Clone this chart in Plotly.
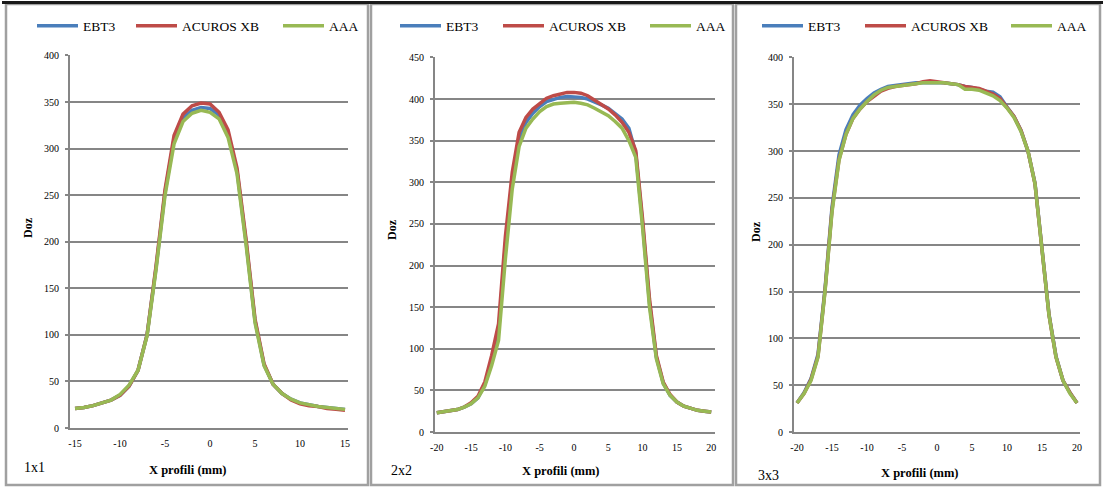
import plotly.graph_objects as go

W, H = 1106, 488

# ---- 1x1 field: lateral dose profile, -15..15 mm ----
x_1x1 = list(range(-15, 16))
ebt3_1x1 = [21, 22, 24, 27, 30, 35, 45, 62, 100, 172, 253, 310, 333, 341, 344, 343,
            336, 316, 276, 200, 115, 68, 47, 37, 31, 27, 25, 23, 22, 21, 20]
acuros_1x1 = [21, 22, 24, 27, 30, 35, 45, 62, 100, 174, 256, 314, 337, 346, 349, 348,
              339, 320, 279, 203, 117, 69, 47, 37, 30, 26, 24, 23, 21, 20, 19]
aaa_1x1 = [21, 22, 24, 27, 30, 36, 46, 62, 99, 170, 250, 305, 329, 338, 341, 339,
           332, 312, 273, 197, 113, 67, 47, 37, 31, 27, 25, 23, 22, 21, 20]
xticks_1x1 = [-15, -10, -5, 0, 5, 10, 15]

# ---- 2x2 field: -20..20 mm ----
x_2x2 = list(range(-20, 21))
ebt3_2x2 = [23, 24, 25, 27, 30, 34, 41, 57, 85, 120, 225, 303, 352, 372, 383, 391, 397,
            400, 402, 403, 403, 402, 400, 397, 393, 389, 383, 376, 365, 335, 250, 155,
            90, 59, 44, 36, 31, 28, 26, 25, 24]
acuros_2x2 = [23, 24, 25, 27, 30, 35, 43, 60, 92, 130, 235, 312, 360, 378, 388, 395, 401,
              404, 406, 408, 408, 407, 404, 399, 394, 388, 381, 372, 360, 338, 255, 160,
              92, 60, 45, 36, 31, 28, 26, 25, 24]
aaa_2x2 = [23, 24, 25, 27, 30, 34, 41, 55, 80, 110, 208, 292, 343, 365, 376, 385, 391,
           394, 395, 396, 396, 395, 393, 389, 385, 380, 373, 365, 350, 330, 245, 150,
           88, 58, 44, 36, 31, 28, 26, 25, 24]
xticks_2x2 = [-20, -15, -10, -5, 0, 5, 10, 15, 20]

# ---- 3x3 field: -20..20 mm ----
x_3x3 = list(range(-20, 21))
ebt3_3x3 = [31, 42, 57, 83, 153, 240, 296, 323, 339, 349, 356, 362, 366, 369, 370, 371,
            372, 373, 373, 373, 373, 373, 372, 371, 369, 368, 366, 364, 363, 358, 347,
            337, 322, 300, 266, 196, 126, 81, 55, 42, 31]
acuros_3x3 = [31, 41, 56, 81, 151, 237, 291, 318, 335, 345, 353, 359, 364, 367, 369, 370,
              371, 372, 374, 375, 374, 373, 372, 371, 369, 368, 367, 364, 361, 356, 347,
              337, 322, 300, 265, 195, 125, 80, 55, 42, 31]
aaa_3x3 = [31, 41, 55, 80, 150, 235, 290, 318, 335, 345, 353, 360, 365, 368, 369, 370,
           371, 372, 373, 373, 373, 373, 372, 371, 366, 366, 365, 362, 359, 354, 346,
           336, 321, 300, 265, 195, 125, 80, 55, 41, 31]
xticks_3x3 = [-20, -15, -10, -5, 0, 5, 10, 15, 20]

series_names = ["EBT3", "ACUROS XB", "AAA"]
series_colors = ["#4a7ebb", "#be4b48", "#98b954"]

panels = [
    dict(x=x_1x1, ys=[ebt3_1x1, acuros_1x1, aaa_1x1], xticks=xticks_1x1, label="1x1"),
    dict(x=x_2x2, ys=[ebt3_2x2, acuros_2x2, aaa_2x2], xticks=xticks_2x2, label="2x2"),
    dict(x=x_3x3, ys=[ebt3_3x3, acuros_3x3, aaa_3x3], xticks=xticks_3x3, label="3x3"),
]

# pixel geometry of each panel (plot area + frame + text anchors);
# leg = left pixel of the legend text of each series
geom = [
    dict(px=(70, 348), py=(55, 428), xr=(-15.56, 15.33), ymax=400,
         frame=(6, 368), leg=(84, 183, 330), doz=(28, 228), xt=(188, 470), lab=(34, 467)),
    dict(px=(435, 715), py=(57, 432), xr=(-20.26, 20.55), ymax=450,
         frame=(371, 733), leg=(447, 550, 697), doz=(392, 230), xt=(561, 471), lab=(401, 470)),
    dict(px=(794, 1080), py=(57, 432), xr=(-20.43, 20.43), ymax=400,
         frame=(736, 1100), leg=(809, 912, 1058), doz=(756, 232), xt=(920, 473), lab=(768, 475)),
]

SERIF = "Liberation Serif"
GRID = "#868686"


def fx(px):
    return px / W


def fy(py):
    return (H - py) / H


fig = go.Figure()
layout = dict(
    width=W, height=H, margin=dict(l=0, r=0, t=0, b=0, autoexpand=False),
    paper_bgcolor="white", plot_bgcolor="white", showlegend=True,
    font=dict(family=SERIF, color="black"),
    shapes=[], annotations=[],
)

leg_count = 0
for i, (p, g) in enumerate(zip(panels, geom)):
    n = "" if i == 0 else str(i + 1)
    for name, color, y, text_x in zip(series_names, series_colors, p["ys"], g["leg"]):
        leg_count += 1
        leg = "legend" if leg_count == 1 else f"legend{leg_count}"
        fig.add_trace(go.Scatter(
            x=p["x"], y=y, name=name, mode="lines", showlegend=True,
            line=dict(color=color, width=3.5),
            xaxis="x" + n, yaxis="y" + n, legend=leg,
        ))
        layout[leg] = dict(
            orientation="h", x=fx(text_x - 52), xanchor="left", y=fy(26), yanchor="middle",
            font=dict(family=SERIF, size=13.5, color="black"), bgcolor="rgba(0,0,0,0)",
            itemwidth=41, itemclick=False,
        )

    layout["xaxis" + n] = dict(
        domain=[fx(g["px"][0]), fx(g["px"][1])], anchor="y" + n, automargin=False,
        range=list(g["xr"]), tickmode="array", tickvals=p["xticks"],
        ticktext=[str(v) for v in p["xticks"]],
        showgrid=False, zeroline=False, showline=True, linecolor=GRID, linewidth=2,
        ticks="", tickfont=dict(family=SERIF, size=10, color="black"),
        ticklabelstandoff=5,
    )
    layout["yaxis" + n] = dict(
        domain=[fy(g["py"][1]), fy(g["py"][0])], anchor="x" + n, automargin=False,
        range=[0, g["ymax"] + 0.5], dtick=50, tick0=0,
        showgrid=True, gridcolor=GRID, gridwidth=2, zeroline=False,
        showline=True, linecolor=GRID, linewidth=2,
        ticks="outside", ticklen=3, tickcolor=GRID, tickwidth=1.5,
        tickfont=dict(family=SERIF, size=10, color="black"),
        ticklabelstandoff=4,
    )

    # panel frame
    layout["shapes"].append(dict(
        type="rect", xref="paper", yref="paper",
        x0=fx(g["frame"][0]), x1=fx(g["frame"][1]), y0=fy(485), y1=fy(4),
        line=dict(color="#a0a0a0", width=2.5), layer="below",
    ))
    # axis titles and field size label
    common = dict(xref="paper", yref="paper", xanchor="center", yanchor="middle", showarrow=False)
    layout["annotations"] += [
        dict(text="<b>Doz</b>", x=fx(g["doz"][0]), y=fy(g["doz"][1]), textangle=-90,
             font=dict(family=SERIF, size=12, color="black"), **common),
        dict(text="<b>X profili (mm)</b>", x=fx(g["xt"][0]), y=fy(g["xt"][1]),
             font=dict(family=SERIF, size=12.5, color="black"), **common),
        dict(text=p["label"], x=fx(g["lab"][0]), y=fy(g["lab"][1]),
             font=dict(family=SERIF, size=14, color="black"), **common),
    ]

# dark rule along the top edge
layout["shapes"].append(dict(
    type="line", xref="paper", yref="paper", x0=fx(2), x1=fx(1103), y0=fy(2.5), y1=fy(2.5),
    line=dict(color="#1a1a1a", width=3),
))

fig.update_layout(**layout)
fig.write_html(
    "out.html",
    post_script="document.body.style.margin='0';document.body.style.overflow='hidden';",
)
